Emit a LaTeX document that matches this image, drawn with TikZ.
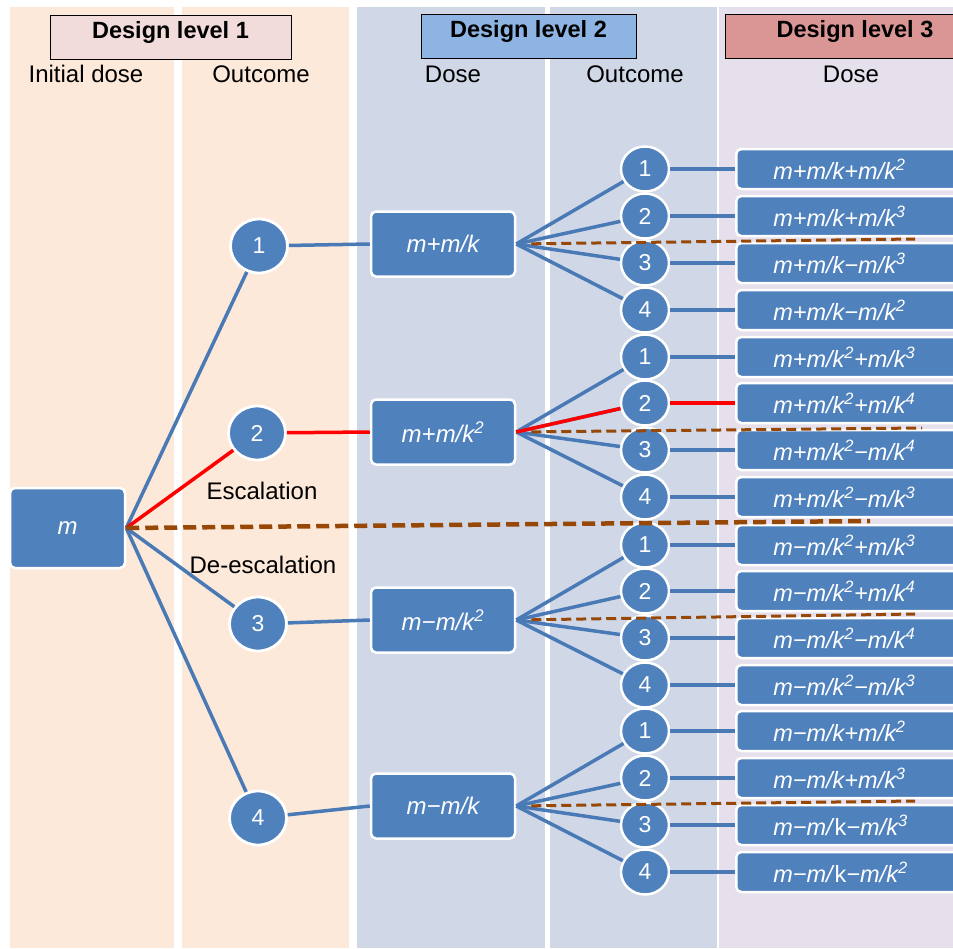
\documentclass[tikz,border=0pt]{standalone}
\usepackage{fontspec}
\setmainfont{Liberation Sans}
\usetikzlibrary{shapes.geometric}
\definecolor{peach}{HTML}{FDE9D9}
\definecolor{bluegray}{HTML}{D0D8E8}
\definecolor{lav}{HTML}{E5E0EC}
\definecolor{hdrA}{HTML}{F2DCDB}
\definecolor{hdrB}{HTML}{8DB4E2}
\definecolor{hdrC}{HTML}{DA9694}
\definecolor{nodeblue}{HTML}{4F81BD}
\definecolor{lineblue}{HTML}{4A7AB5}
\definecolor{brownline}{HTML}{974806}
\newcommand{\sx}[1]{\textsuperscript{#1}}
\tikzset{
  box/.style={draw=white, line width=2.5pt, fill=nodeblue, rounded corners=5pt, text=white,
    font=\fontsize{24}{26}\selectfont\itshape},
  dosebox/.style={box, minimum width=144, minimum height=65},
  leafbox/.style={box, anchor=west, minimum height=40, text width=180, inner xsep=37, align=left, inner ysep=0pt,
    font=\fontsize{23.5}{25}\selectfont\itshape},
  ovA/.style={ellipse, draw=white, line width=2.8pt, fill=nodeblue, text=white, inner sep=0pt,
    minimum width=57, minimum height=54, font=\fontsize{23}{25}\selectfont},
  ovB/.style={ellipse, draw=white, line width=2.5pt, fill=nodeblue, text=white, inner sep=0pt,
    minimum width=48, minimum height=45, font=\fontsize{23}{25}\selectfont},
  hdr/.style={draw=black, line width=1pt, anchor=north, text height=21, text depth=20, inner ysep=1.5,
    font=\fontsize{23.5}{25}\selectfont\bfseries},
  sub/.style={font=\fontsize{24}{26}\selectfont, inner sep=0pt},
  conn/.style={draw=lineblue, line width=3.5pt},
  esc/.style={draw=red, line width=3.5pt},
  divmain/.style={draw=brownline, line width=4.5pt, dash pattern=on 13pt off 6pt},
  divgrp/.style={draw=brownline, line width=3pt, dash pattern=on 10pt off 5pt, shorten <=15pt},
}
\begin{document}
\begin{tikzpicture}[x=1pt,y=-1pt]
\useasboundingbox (0,0) rectangle (953,948);
\clip (0,0) rectangle (953,948);
% column backgrounds
\fill[peach] (10,7) rectangle (174,948);
\fill[peach] (182,7) rectangle (349,948);
\fill[bluegray] (357,7) rectangle (545,948);
\fill[bluegray] (550,7) rectangle (717,948);
\fill[lav] (719,7) rectangle (953,948);
% headers
\node[hdr, fill=hdrA, minimum width=241] (h1) at (170.5,15) {Design level 1};
\node[hdr, fill=hdrB, minimum width=215] (h2) at (528.5,14) {Design level 2};
\node[hdr, fill=hdrC, minimum width=260] (h3) at (855,14) {Design level 3};
\node[sub] (s1) at (86,74) {Initial dose};
\node[sub] (s2) at (261,74) {Outcome};
\node[sub] (s3) at (453,74) {Dose};
\node[sub] (s4) at (635,74) {Outcome};
\node[sub] (s5) at (851,74) {Dose};
% initial dose
\node[box, minimum width=115, minimum height=80] (m) at (67.5,528) {m};
% level 1 outcomes
\node[ovA] (a1) at (259,246) {1};
\node[ovA] (a2) at (257,433) {2};
\node[ovA] (a3) at (258,624) {3};
\node[ovA] (a4) at (258,818) {4};
\node[sub] (esc) at (262,491) {Escalation};
\node[sub] (desc) at (263,565) {De-escalation};
% level 2 doses
\node[dosebox] (b1) at (443,244) {m+m/k};
\node[dosebox] (b2) at (443,432) {m+m/k\sx{2}};
\node[dosebox] (b3) at (443,620) {m−m/k\sx{2}};
\node[dosebox] (b4) at (443,806) {m−m/k};
% level 2 outcomes
\foreach \g/\ya/\yb/\yc/\yd in {1/169/216/263/310, 2/357/403/450/497, 3/545/591/638/685, 4/731/778/825/872}{
  \node[ovB] (o\g1) at (645,\ya) {1};
  \node[ovB] (o\g2) at (645,\yb) {2};
  \node[ovB] (o\g3) at (645,\yc) {3};
  \node[ovB] (o\g4) at (645,\yd) {4};
}
% level 3 doses
\node[leafbox] (c11) at (735,169) {m+m/k+m/k\sx{2}};
\node[leafbox] (c12) at (735,216) {m+m/k+m/k\sx{3}};
\node[leafbox] (c13) at (735,263) {m+m/k−m/k\sx{3}};
\node[leafbox] (c14) at (735,310) {m+m/k−m/k\sx{2}};
\node[leafbox] (c21) at (735,357) {m+m/k\sx{2}+m/k\sx{3}};
\node[leafbox] (c22) at (735,403) {m+m/k\sx{2}+m/k\sx{4}};
\node[leafbox] (c23) at (735,450) {m+m/k\sx{2}−m/k\sx{4}};
\node[leafbox] (c24) at (735,497) {m+m/k\sx{2}−m/k\sx{3}};
\node[leafbox] (c31) at (735,545) {m−m/k\sx{2}+m/k\sx{3}};
\node[leafbox] (c32) at (735,591) {m−m/k\sx{2}+m/k\sx{4}};
\node[leafbox] (c33) at (735,638) {m−m/k\sx{2}−m/k\sx{4}};
\node[leafbox] (c34) at (735,685) {m−m/k\sx{2}−m/k\sx{3}};
\node[leafbox] (c41) at (735,731) {m−m/k+m/k\sx{2}};
\node[leafbox] (c42) at (735,778) {m−m/k+m/k\sx{3}};
\node[leafbox] (c43) at (735,825) {m−m/\textup{k}−m/k\sx{3}};
\node[leafbox] (c44) at (735,872) {m−m/\textup{k}−m/k\sx{2}};
% connectors level 1
\draw[conn] (m.east) -- (a1);
\draw[conn] (m.east) -- (a3);
\draw[conn] (m.east) -- (a4);
\draw[esc] (m.east) -- (a2);
\draw[conn] (a1) -- (b1.west);
\draw[esc] (a2) -- (b2.west);
\draw[conn] (a3) -- (b3.west);
\draw[conn] (a4) -- (b4.west);
% connectors level 2 and 3
\foreach \g in {1,...,4}{
  \foreach \k in {1,...,4}{
    \draw[conn] (b\g.east) -- (o\g\k);
    \draw[conn] (o\g\k) -- (c\g\k.west);
  }
}
\draw[esc] (b2.east) -- (o22);
\draw[esc] (o22) -- (c22.west);
% dividing dashed lines
\coordinate (e0) at (870,521);
\coordinate (e1) at (915,239);
\coordinate (e2) at (922,428);
\coordinate (e3) at (915,614);
\coordinate (e4) at (915,801);
\draw[divmain] (m.east) -- (e0);
\draw[divgrp] (b1.east) -- (e1);
\draw[divgrp] (b2.east) -- (e2);
\draw[divgrp] (b3.east) -- (e3);
\draw[divgrp] (b4.east) -- (e4);
\end{tikzpicture}
\end{document}
